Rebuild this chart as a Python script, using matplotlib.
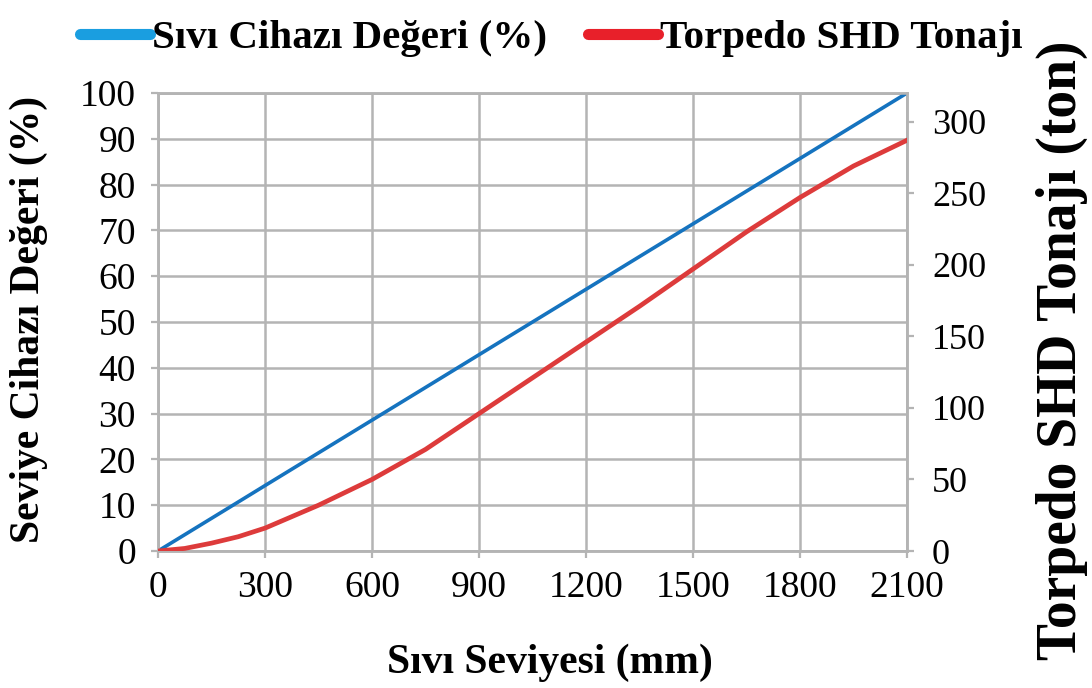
import matplotlib.pyplot as plt
from matplotlib.lines import Line2D

plt.rcParams['font.family'] = ['Liberation Serif', 'DejaVu Serif']

# liquid level (mm)
level = [0, 75, 150, 225, 300, 450, 600, 750, 900, 1050, 1200, 1350, 1500, 1650, 1800, 1950, 2100]
# level device reading (%)
device = [0, 3.57, 7.14, 10.71, 14.29, 21.43, 28.57, 35.71, 42.86, 50.0, 57.14, 64.29,
          71.43, 78.57, 85.71, 92.86, 100]
# torpedo tonnage (ton)
tonnage = [0, 1.8, 5.5, 10, 16, 32, 50, 71, 96, 121, 146, 171, 197, 223, 247, 269, 287]

fig = plt.figure(figsize=(10.92, 6.88), dpi=100)
ax = fig.add_axes([0.1447, 0.1991, 0.6859, 0.6657])
ax2 = ax.twinx()

blue = '#1573bf'
red = '#dd3b3b'
grid_c = '#b4b4b4'

ax.plot(level, device, color=blue, lw=2.6, zorder=3)
ax2.plot(level, tonnage, color=red, lw=3.4, zorder=3, solid_joinstyle='round')

ax.set_xlim(0, 2100)
ax.set_ylim(0, 100)
ax2.set_ylim(0, 320)
ax.set_xticks(range(0, 2101, 300))
ax.set_yticks(range(0, 101, 10))
ax2.set_yticks(range(0, 301, 50))

ax.grid(True, color=grid_c, lw=1.8)
ax.set_axisbelow(True)
for a in (ax, ax2):
    for s in a.spines.values():
        s.set_color(grid_c)
        s.set_linewidth(1.8)
ax.tick_params(axis='both', colors=grid_c, labelcolor='black', labelsize=27, length=5, width=1.6)
ax.tick_params(axis='x', pad=9)
ax.tick_params(axis='y', pad=11)
ax2.tick_params(axis='y', colors=grid_c, labelcolor='black', labelsize=26, length=5, width=1.6, pad=13)

ax.set_xlabel('Sıvı Seviyesi (mm)', fontsize=30, fontweight='bold')
ax.xaxis.set_label_coords(0.523, -0.244)
ax.xaxis.label.set_va('center')
ax.set_ylabel('Seviye Cihazı Değeri (%)', fontsize=30, fontweight='bold')
ax.yaxis.set_label_coords(-0.172, 0.505)
ax.yaxis.label.set_va('center')
ax2.set_ylabel('Torpedo SHD Tonajı (ton)', fontsize=40, fontweight='bold')
ax2.yaxis.set_label_coords(1.207, 0.439)
ax2.yaxis.label.set_va('center')

handles = [Line2D([], [], color='#1a9ee0', lw=8, solid_capstyle='round'),
           Line2D([], [], color='#e8202a', lw=8, solid_capstyle='round')]
fig.legend(handles, ['Sıvı Cihazı Değeri (%)', 'Torpedo SHD Tonajı'],
           loc='upper center', bbox_to_anchor=(0.505, 1.025), ncol=2, frameon=False,
           prop={'size': 29.5, 'weight': 'bold'}, handlelength=1.7, handletextpad=0.05,
           columnspacing=1.0)

fig.savefig('out.png', dpi=100, facecolor='white')
